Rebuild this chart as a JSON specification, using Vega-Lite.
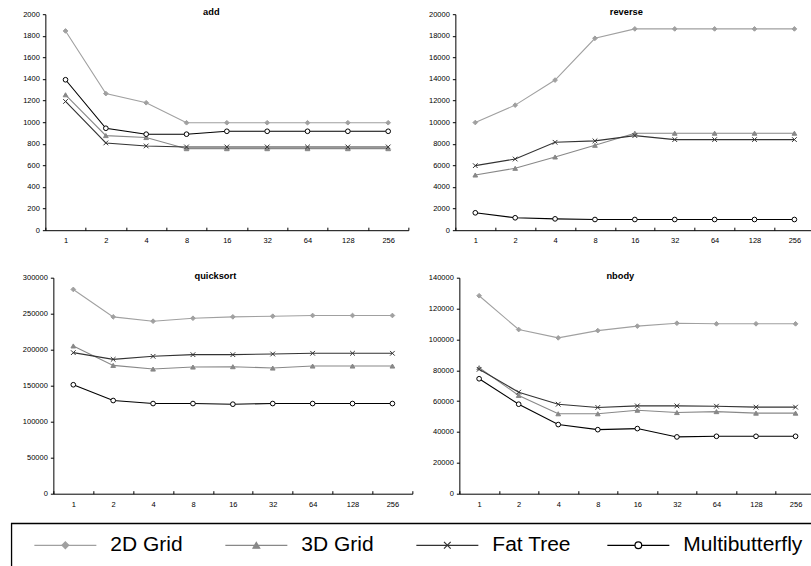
{
  "$schema": "https://vega.github.io/schema/vega-lite/v6.json",
  "autosize": {"type": "pad"},
  "padding": {"left": 10.35, "top": 8.2, "right": 0, "bottom": 0},
  "background": "white",
  "data": {"values": [
    {"b":"add","s":"2D Grid","p":"1","v":1845},{"b":"add","s":"2D Grid","p":"2","v":1265},{"b":"add","s":"2D Grid","p":"4","v":1180},{"b":"add","s":"2D Grid","p":"8","v":995},{"b":"add","s":"2D Grid","p":"16","v":995},{"b":"add","s":"2D Grid","p":"32","v":995},{"b":"add","s":"2D Grid","p":"64","v":995},{"b":"add","s":"2D Grid","p":"128","v":995},{"b":"add","s":"2D Grid","p":"256","v":995},
    {"b":"add","s":"3D Grid","p":"1","v":1254},{"b":"add","s":"3D Grid","p":"2","v":876},{"b":"add","s":"3D Grid","p":"4","v":858},{"b":"add","s":"3D Grid","p":"8","v":755},{"b":"add","s":"3D Grid","p":"16","v":755},{"b":"add","s":"3D Grid","p":"32","v":755},{"b":"add","s":"3D Grid","p":"64","v":755},{"b":"add","s":"3D Grid","p":"128","v":755},{"b":"add","s":"3D Grid","p":"256","v":755},
    {"b":"add","s":"Fat Tree","p":"1","v":1192},{"b":"add","s":"Fat Tree","p":"2","v":808},{"b":"add","s":"Fat Tree","p":"4","v":780},{"b":"add","s":"Fat Tree","p":"8","v":771},{"b":"add","s":"Fat Tree","p":"16","v":771},{"b":"add","s":"Fat Tree","p":"32","v":771},{"b":"add","s":"Fat Tree","p":"64","v":771},{"b":"add","s":"Fat Tree","p":"128","v":771},{"b":"add","s":"Fat Tree","p":"256","v":771},
    {"b":"add","s":"Multibutterfly","p":"1","v":1393},{"b":"add","s":"Multibutterfly","p":"2","v":944},{"b":"add","s":"Multibutterfly","p":"4","v":889},{"b":"add","s":"Multibutterfly","p":"8","v":889},{"b":"add","s":"Multibutterfly","p":"16","v":916},{"b":"add","s":"Multibutterfly","p":"32","v":916},{"b":"add","s":"Multibutterfly","p":"64","v":916},{"b":"add","s":"Multibutterfly","p":"128","v":916},{"b":"add","s":"Multibutterfly","p":"256","v":916},
    {"b":"reverse","s":"2D Grid","p":"1","v":9970},{"b":"reverse","s":"2D Grid","p":"2","v":11580},{"b":"reverse","s":"2D Grid","p":"4","v":13900},{"b":"reverse","s":"2D Grid","p":"8","v":17770},{"b":"reverse","s":"2D Grid","p":"16","v":18640},{"b":"reverse","s":"2D Grid","p":"32","v":18640},{"b":"reverse","s":"2D Grid","p":"64","v":18640},{"b":"reverse","s":"2D Grid","p":"128","v":18640},{"b":"reverse","s":"2D Grid","p":"256","v":18640},
    {"b":"reverse","s":"3D Grid","p":"1","v":5110},{"b":"reverse","s":"3D Grid","p":"2","v":5730},{"b":"reverse","s":"3D Grid","p":"4","v":6780},{"b":"reverse","s":"3D Grid","p":"8","v":7860},{"b":"reverse","s":"3D Grid","p":"16","v":8980},{"b":"reverse","s":"3D Grid","p":"32","v":8980},{"b":"reverse","s":"3D Grid","p":"64","v":8980},{"b":"reverse","s":"3D Grid","p":"128","v":8980},{"b":"reverse","s":"3D Grid","p":"256","v":8980},
    {"b":"reverse","s":"Fat Tree","p":"1","v":5975},{"b":"reverse","s":"Fat Tree","p":"2","v":6590},{"b":"reverse","s":"Fat Tree","p":"4","v":8140},{"b":"reverse","s":"Fat Tree","p":"8","v":8270},{"b":"reverse","s":"Fat Tree","p":"16","v":8760},{"b":"reverse","s":"Fat Tree","p":"32","v":8390},{"b":"reverse","s":"Fat Tree","p":"64","v":8390},{"b":"reverse","s":"Fat Tree","p":"128","v":8390},{"b":"reverse","s":"Fat Tree","p":"256","v":8390},
    {"b":"reverse","s":"Multibutterfly","p":"1","v":1610},{"b":"reverse","s":"Multibutterfly","p":"2","v":1150},{"b":"reverse","s":"Multibutterfly","p":"4","v":1050},{"b":"reverse","s":"Multibutterfly","p":"8","v":990},{"b":"reverse","s":"Multibutterfly","p":"16","v":990},{"b":"reverse","s":"Multibutterfly","p":"32","v":990},{"b":"reverse","s":"Multibutterfly","p":"64","v":990},{"b":"reverse","s":"Multibutterfly","p":"128","v":990},{"b":"reverse","s":"Multibutterfly","p":"256","v":990},
    {"b":"quicksort","s":"2D Grid","p":"1","v":283700},{"b":"quicksort","s":"2D Grid","p":"2","v":245600},{"b":"quicksort","s":"2D Grid","p":"4","v":239600},{"b":"quicksort","s":"2D Grid","p":"8","v":243700},{"b":"quicksort","s":"2D Grid","p":"16","v":245600},{"b":"quicksort","s":"2D Grid","p":"32","v":246500},{"b":"quicksort","s":"2D Grid","p":"64","v":247500},{"b":"quicksort","s":"2D Grid","p":"128","v":247500},{"b":"quicksort","s":"2D Grid","p":"256","v":247500},
    {"b":"quicksort","s":"3D Grid","p":"1","v":205200},{"b":"quicksort","s":"3D Grid","p":"2","v":178200},{"b":"quicksort","s":"3D Grid","p":"4","v":173100},{"b":"quicksort","s":"3D Grid","p":"8","v":175900},{"b":"quicksort","s":"3D Grid","p":"16","v":176400},{"b":"quicksort","s":"3D Grid","p":"32","v":174500},{"b":"quicksort","s":"3D Grid","p":"64","v":177300},{"b":"quicksort","s":"3D Grid","p":"128","v":177300},{"b":"quicksort","s":"3D Grid","p":"256","v":177300},
    {"b":"quicksort","s":"Fat Tree","p":"1","v":195900},{"b":"quicksort","s":"Fat Tree","p":"2","v":186600},{"b":"quicksort","s":"Fat Tree","p":"4","v":190800},{"b":"quicksort","s":"Fat Tree","p":"8","v":193100},{"b":"quicksort","s":"Fat Tree","p":"16","v":193100},{"b":"quicksort","s":"Fat Tree","p":"32","v":194000},{"b":"quicksort","s":"Fat Tree","p":"64","v":195000},{"b":"quicksort","s":"Fat Tree","p":"128","v":195000},{"b":"quicksort","s":"Fat Tree","p":"256","v":195000},
    {"b":"quicksort","s":"Multibutterfly","p":"1","v":151300},{"b":"quicksort","s":"Multibutterfly","p":"2","v":129400},{"b":"quicksort","s":"Multibutterfly","p":"4","v":125200},{"b":"quicksort","s":"Multibutterfly","p":"8","v":125200},{"b":"quicksort","s":"Multibutterfly","p":"16","v":124300},{"b":"quicksort","s":"Multibutterfly","p":"32","v":125200},{"b":"quicksort","s":"Multibutterfly","p":"64","v":125200},{"b":"quicksort","s":"Multibutterfly","p":"128","v":125200},{"b":"quicksort","s":"Multibutterfly","p":"256","v":125200},
    {"b":"nbody","s":"2D Grid","p":"1","v":128300},{"b":"nbody","s":"2D Grid","p":"2","v":106400},{"b":"nbody","s":"2D Grid","p":"4","v":101000},{"b":"nbody","s":"2D Grid","p":"8","v":105700},{"b":"nbody","s":"2D Grid","p":"16","v":108600},{"b":"nbody","s":"2D Grid","p":"32","v":110500},{"b":"nbody","s":"2D Grid","p":"64","v":110100},{"b":"nbody","s":"2D Grid","p":"128","v":110100},{"b":"nbody","s":"2D Grid","p":"256","v":110100},
    {"b":"nbody","s":"3D Grid","p":"1","v":81700},{"b":"nbody","s":"3D Grid","p":"2","v":63700},{"b":"nbody","s":"3D Grid","p":"4","v":51800},{"b":"nbody","s":"3D Grid","p":"8","v":51800},{"b":"nbody","s":"3D Grid","p":"16","v":54100},{"b":"nbody","s":"3D Grid","p":"32","v":52600},{"b":"nbody","s":"3D Grid","p":"64","v":53200},{"b":"nbody","s":"3D Grid","p":"128","v":52200},{"b":"nbody","s":"3D Grid","p":"256","v":52200},
    {"b":"nbody","s":"Fat Tree","p":"1","v":80600},{"b":"nbody","s":"Fat Tree","p":"2","v":65800},{"b":"nbody","s":"Fat Tree","p":"4","v":58000},{"b":"nbody","s":"Fat Tree","p":"8","v":55900},{"b":"nbody","s":"Fat Tree","p":"16","v":56900},{"b":"nbody","s":"Fat Tree","p":"32","v":56900},{"b":"nbody","s":"Fat Tree","p":"64","v":56700},{"b":"nbody","s":"Fat Tree","p":"128","v":56100},{"b":"nbody","s":"Fat Tree","p":"256","v":56100},
    {"b":"nbody","s":"Multibutterfly","p":"1","v":74500},{"b":"nbody","s":"Multibutterfly","p":"2","v":58000},{"b":"nbody","s":"Multibutterfly","p":"4","v":44800},{"b":"nbody","s":"Multibutterfly","p":"8","v":41500},{"b":"nbody","s":"Multibutterfly","p":"16","v":42200},{"b":"nbody","s":"Multibutterfly","p":"32","v":36800},{"b":"nbody","s":"Multibutterfly","p":"64","v":37200},{"b":"nbody","s":"Multibutterfly","p":"128","v":37200},{"b":"nbody","s":"Multibutterfly","p":"256","v":37200}
  ]},
  "spacing": 14.1,
  "vconcat": [
    {
      "columns": 2,
      "bounds": "flush",
      "spacing": {"row": 47.5, "column": 43},
      "concat": [
        {
          "width": 397, "height": 216,
          "title": {"text": "add", "dx": 1.5},
          "transform": [{"filter": "datum.b === 'add'"}],
          "encoding": {
            "x": {"field": "p", "type": "ordinal", "sort": ["1","2","4","8","16","32","64","128","256"], "scale": {"type": "band", "paddingInner": 0, "paddingOuter": 0, "range": [34, 397]}, "axis": {"title": null, "labelAngle": 0, "tickBand": "extent", "tickSize": -3, "labelPadding": 9.5}},
            "y": {"field": "v", "type": "quantitative", "scale": {"domain": [0, 2000], "nice": false}, "axis": {"title": null, "offset": -34, "values": [0,200,400,600,800,1000,1200,1400,1600,1800,2000], "format": "d"}}
          },
          "layer": [
            {"mark": {"type": "line", "strokeWidth": 1.1}, "encoding": {"stroke": {"field": "s", "type": "nominal", "scale": {"domain": ["2D Grid","3D Grid","Fat Tree","Multibutterfly"], "range": ["#a0a0a0","#888888","#333333","#000000"]}, "legend": null}}},
            {"mark": {"type": "point", "opacity": 1, "strokeWidth": 1}, "encoding": {
              "shape": {"field": "s", "type": "nominal", "scale": {"domain": ["2D Grid","3D Grid","Fat Tree","Multibutterfly"], "range": ["diamond","triangle-up","M-1,-1L1,1M-1,1L1,-1","circle"]}, "legend": null},
              "fill": {"field": "s", "type": "nominal", "scale": {"domain": ["2D Grid","3D Grid","Fat Tree","Multibutterfly"], "range": ["#a0a0a0","#888888","transparent","#ffffff"]}, "legend": null},
              "stroke": {"field": "s", "type": "nominal", "scale": {"domain": ["2D Grid","3D Grid","Fat Tree","Multibutterfly"], "range": ["#a0a0a0","#888888","#333333","#000000"]}, "legend": null},
              "size": {"value": 22}
            }}
          ]
        },
        {
          "width": 359, "height": 216,
          "title": {"text": "reverse", "dx": -8.5},
          "transform": [{"filter": "datum.b === 'reverse'"}],
          "encoding": {
            "x": {"field": "p", "type": "ordinal", "sort": ["1","2","4","8","16","32","64","128","256"], "scale": {"type": "band", "paddingInner": 0, "paddingOuter": 0}, "axis": {"title": null, "labelAngle": 0, "tickBand": "extent", "tickSize": -3, "labelPadding": 9.5}},
            "y": {"field": "v", "type": "quantitative", "scale": {"domain": [0, 20000], "nice": false}, "axis": {"title": null, "values": [0,2000,4000,6000,8000,10000,12000,14000,16000,18000,20000], "format": "d"}}
          },
          "layer": [
            {"mark": {"type": "line", "strokeWidth": 1.1}, "encoding": {"stroke": {"field": "s", "type": "nominal", "scale": {"domain": ["2D Grid","3D Grid","Fat Tree","Multibutterfly"], "range": ["#a0a0a0","#888888","#333333","#000000"]}, "legend": null}}},
            {"mark": {"type": "point", "opacity": 1, "strokeWidth": 1}, "encoding": {
              "shape": {"field": "s", "type": "nominal", "scale": {"domain": ["2D Grid","3D Grid","Fat Tree","Multibutterfly"], "range": ["diamond","triangle-up","M-1,-1L1,1M-1,1L1,-1","circle"]}, "legend": null},
              "fill": {"field": "s", "type": "nominal", "scale": {"domain": ["2D Grid","3D Grid","Fat Tree","Multibutterfly"], "range": ["#a0a0a0","#888888","transparent","#ffffff"]}, "legend": null},
              "stroke": {"field": "s", "type": "nominal", "scale": {"domain": ["2D Grid","3D Grid","Fat Tree","Multibutterfly"], "range": ["#a0a0a0","#888888","#333333","#000000"]}, "legend": null},
              "size": {"value": 22}
            }}
          ]
        },
        {
          "width": 401, "height": 216,
          "title": {"text": "quicksort", "dx": 3.5},
          "transform": [{"filter": "datum.b === 'quicksort'"}],
          "encoding": {
            "x": {"field": "p", "type": "ordinal", "sort": ["1","2","4","8","16","32","64","128","256"], "scale": {"type": "band", "paddingInner": 0, "paddingOuter": 0, "range": [42, 401]}, "axis": {"title": null, "labelAngle": 0, "tickBand": "extent", "tickSize": -3, "labelPadding": 9.5}},
            "y": {"field": "v", "type": "quantitative", "scale": {"domain": [0, 300000], "nice": false}, "axis": {"title": null, "offset": -42, "values": [0,50000,100000,150000,200000,250000,300000], "format": "d"}}
          },
          "layer": [
            {"mark": {"type": "line", "strokeWidth": 1.1}, "encoding": {"stroke": {"field": "s", "type": "nominal", "scale": {"domain": ["2D Grid","3D Grid","Fat Tree","Multibutterfly"], "range": ["#a0a0a0","#888888","#333333","#000000"]}, "legend": null}}},
            {"mark": {"type": "point", "opacity": 1, "strokeWidth": 1}, "encoding": {
              "shape": {"field": "s", "type": "nominal", "scale": {"domain": ["2D Grid","3D Grid","Fat Tree","Multibutterfly"], "range": ["diamond","triangle-up","M-1,-1L1,1M-1,1L1,-1","circle"]}, "legend": null},
              "fill": {"field": "s", "type": "nominal", "scale": {"domain": ["2D Grid","3D Grid","Fat Tree","Multibutterfly"], "range": ["#a0a0a0","#888888","transparent","#ffffff"]}, "legend": null},
              "stroke": {"field": "s", "type": "nominal", "scale": {"domain": ["2D Grid","3D Grid","Fat Tree","Multibutterfly"], "range": ["#a0a0a0","#888888","#333333","#000000"]}, "legend": null},
              "size": {"value": 22}
            }}
          ]
        },
        {
          "width": 360, "height": 216,
          "title": {"text": "nbody", "dx": -15},
          "transform": [{"filter": "datum.b === 'nbody'"}],
          "encoding": {
            "x": {"field": "p", "type": "ordinal", "sort": ["1","2","4","8","16","32","64","128","256"], "scale": {"type": "band", "paddingInner": 0, "paddingOuter": 0, "range": [4, 360]}, "axis": {"title": null, "labelAngle": 0, "tickBand": "extent", "tickSize": -3, "labelPadding": 9.5}},
            "y": {"field": "v", "type": "quantitative", "scale": {"domain": [0, 140000], "nice": false}, "axis": {"title": null, "offset": -4, "values": [0,20000,40000,60000,80000,100000,120000,140000], "format": "d"}}
          },
          "layer": [
            {"mark": {"type": "line", "strokeWidth": 1.1}, "encoding": {"stroke": {"field": "s", "type": "nominal", "scale": {"domain": ["2D Grid","3D Grid","Fat Tree","Multibutterfly"], "range": ["#a0a0a0","#888888","#333333","#000000"]}, "legend": null}}},
            {"mark": {"type": "point", "opacity": 1, "strokeWidth": 1}, "encoding": {
              "shape": {"field": "s", "type": "nominal", "scale": {"domain": ["2D Grid","3D Grid","Fat Tree","Multibutterfly"], "range": ["diamond","triangle-up","M-1,-1L1,1M-1,1L1,-1","circle"]}, "legend": null},
              "fill": {"field": "s", "type": "nominal", "scale": {"domain": ["2D Grid","3D Grid","Fat Tree","Multibutterfly"], "range": ["#a0a0a0","#888888","transparent","#ffffff"]}, "legend": null},
              "stroke": {"field": "s", "type": "nominal", "scale": {"domain": ["2D Grid","3D Grid","Fat Tree","Multibutterfly"], "range": ["#a0a0a0","#888888","#333333","#000000"]}, "legend": null},
              "size": {"value": 22}
            }}
          ]
        }
      ],
      "resolve": {"scale": {"x": "independent", "y": "independent"}}
    },
    {
      "width": 814, "height": 44,
      "view": {"stroke": "#000000", "strokeWidth": 1.3, "fill": "#ffffff"},
      "data": {"values": [{"s": "2D Grid"}, {"s": "3D Grid"}, {"s": "Fat Tree"}, {"s": "Multibutterfly"}]},
      "encoding": {
        "x": {"field": "s", "type": "nominal", "sort": ["2D Grid","3D Grid","Fat Tree","Multibutterfly"], "bandPosition": 0.1623, "scale": {"type": "band", "range": [23, 787], "paddingInner": 0, "paddingOuter": 0}, "axis": null},
        "y": {"datum": "c", "type": "nominal", "scale": {"type": "point", "padding": 0.5}, "axis": null}
      },
      "layer": [
        {"mark": {"type": "point", "shape": "M-1,0L1,0", "size": 3844, "strokeWidth": 1.3, "opacity": 1, "filled": false}, "encoding": {
          "stroke": {"field": "s", "type": "nominal", "scale": {"domain": ["2D Grid","3D Grid","Fat Tree","Multibutterfly"], "range": ["#a0a0a0","#888888","#333333","#000000"]}, "legend": null}
        }},
        {"mark": {"type": "point", "opacity": 1, "strokeWidth": 1.2}, "encoding": {
          "shape": {"field": "s", "type": "nominal", "scale": {"domain": ["2D Grid","3D Grid","Fat Tree","Multibutterfly"], "range": ["diamond","triangle-up","M-1,-1L1,1M-1,1L1,-1","circle"]}, "legend": null},
          "fill": {"field": "s", "type": "nominal", "scale": {"domain": ["2D Grid","3D Grid","Fat Tree","Multibutterfly"], "range": ["#a0a0a0","#888888","transparent","#ffffff"]}, "legend": null},
          "stroke": {"field": "s", "type": "nominal", "scale": {"domain": ["2D Grid","3D Grid","Fat Tree","Multibutterfly"], "range": ["#a0a0a0","#888888","#333333","#000000"]}, "legend": null},
          "size": {"value": 45}
        }},
        {"mark": {"type": "text", "align": "left", "baseline": "middle", "font": "Liberation Sans", "fontSize": 21, "color": "#000000"}, "encoding": {
          "x": {"field": "s", "type": "nominal", "sort": ["2D Grid","3D Grid","Fat Tree","Multibutterfly"], "bandPosition": 0.398, "axis": null},
          "text": {"field": "s", "type": "nominal"}
        }}
      ]
    }
  ],
  "resolve": {"scale": {"x": "independent", "y": "independent"}},
  "config": {
    "view": {"stroke": null},
    "font": "Liberation Sans",
    "axis": {"labelFont": "Liberation Sans", "labelFontSize": 7.5, "labelColor": "#000000", "domainColor": "#000000", "tickColor": "#000000", "grid": false, "tickSize": 3, "labelPadding": 3, "domainWidth": 1, "tickWidth": 1},
    "title": {"font": "Liberation Sans", "fontSize": 9.3, "fontWeight": "bold", "anchor": "middle", "frame": "group", "baseline": "middle", "offset": -7.5, "color": "#000000"}
  }
}
